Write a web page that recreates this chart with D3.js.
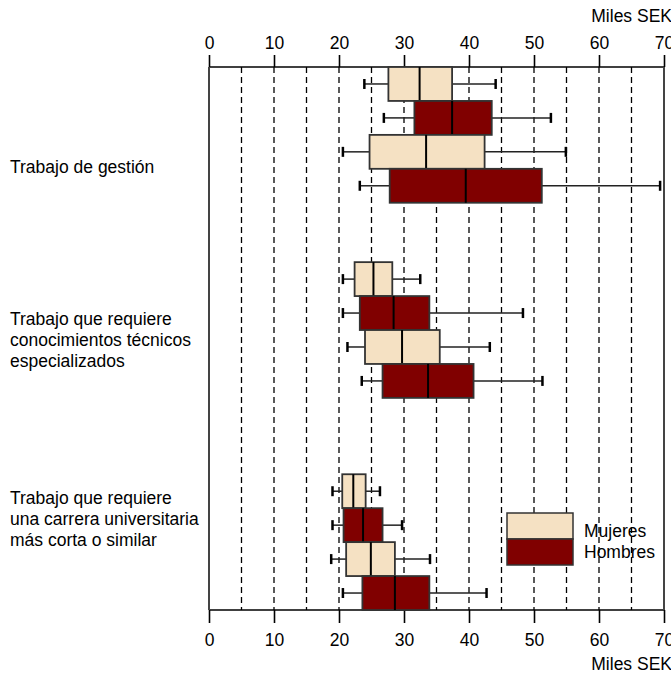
<!DOCTYPE html>
<html>
<head>
<meta charset="utf-8">
<script src="https://cdn.jsdelivr.net/npm/d3@7"></script>
<style>
  body { margin: 0; background: #fff; }
  svg text { font-family: "Liberation Sans", Arial, sans-serif; fill: #000; }
</style>
</head>
<body>
<div id="grafica"></div>
<script>
// categorias (cada grupo tiene 4 filas: M, H, M, H)
const grupos = [
    ["Trabajo de gestión"],
    ["Trabajo que requiere", "conocimientos técnicos", "especializados"],
    ["Trabajo que requiere", "una carrera universitaria", "más corta o similar"]
];
const sexos = ["Mujeres", "Hombres", "Mujeres", "Hombres"];
const ticks = [0, 10, 20, 30, 40, 50, 60, 70];
const rejilla = [5, 10, 15, 20, 25, 30, 35, 40, 45, 50, 55, 60, 65];

// valores en miles SEK, 12 filas (grupo por grupo)
const minimo  = [23.9, 26.9, 20.6, 23.2,  20.6, 20.6, 21.3, 23.5,  19.0, 19.0, 18.8, 20.6];
const q1      = [27.6, 31.6, 24.7, 27.8,  22.4, 23.2, 24.0, 26.7,  20.5, 20.7, 21.1, 23.6];
const mediana = [32.4, 37.4, 33.4, 39.5,  25.3, 28.4, 29.7, 33.7,  22.2, 23.7, 24.9, 28.6];
const q3      = [37.4, 43.5, 42.4, 51.2,  28.2, 33.9, 35.5, 40.7,  24.1, 26.7, 28.6, 33.9];
const maximo  = [44.1, 52.6, 54.9, 69.4,  32.5, 48.3, 43.2, 51.3,  26.3, 29.7, 34.0, 42.7];

function grafica() {
    const width = 671, height = 675;
    const left = 209, right = 664, top = 67, bottom = 610;
    const inicioGrupo = [0, 5.75, 12];   // fila donde empieza cada grupo
    const centroEtiqueta = [2.95, 8.04, 13.32];
    const fs = '17.5px';

    const colores = { "Mujeres": "#f5e1c3", "Hombres": "#800000" };

    const x = d3.scaleLinear().domain([0, 70]).range([left, right]);
    const y = d3.scaleLinear().domain([0, 16]).range([top, bottom]);

    const svg = d3.select('#grafica').append('svg')
        .attr('width', width)
        .attr('height', height);

    // lineas discontinuas
    svg.selectAll('line.rejilla')
        .data(rejilla)
        .enter().append('line')
        .attr('class', 'rejilla')
        .attr('x1', d => x(d)).attr('x2', d => x(d))
        .attr('y1', top).attr('y2', bottom)
        .attr('stroke', '#000')
        .attr('stroke-width', 1.3)
        .attr('stroke-dasharray', '6,4');

    // ejes arriba y abajo
    const ejeArriba = d3.axisTop(x).tickValues(ticks).tickSize(12).tickPadding(6);
    const ejeAbajo = d3.axisBottom(x).tickValues(ticks).tickSize(13).tickPadding(11);

    const gA = svg.append('g').attr('transform', `translate(0,${top})`).call(ejeArriba);
    const gB = svg.append('g').attr('transform', `translate(0,${bottom})`).call(ejeAbajo);
    [gA, gB].forEach(g => {
        g.select('.domain').remove();
        g.selectAll('.tick line').attr('stroke', '#000').attr('stroke-width', 1.6);
        g.selectAll('.tick text').style('font-size', fs)
            .style('font-family', '"Liberation Sans", Arial, sans-serif');
    });
    gA.selectAll('.tick text').attr('dy', '0');
    gB.selectAll('.tick text').attr('dy', '0.71em');

    svg.append('line')
        .attr('x1', left).attr('x2', right).attr('y1', top).attr('y2', top)
        .attr('stroke', '#000').attr('stroke-width', 1.6);
    svg.append('line')
        .attr('x1', left).attr('x2', right).attr('y1', bottom).attr('y2', bottom)
        .attr('stroke', '#000').attr('stroke-width', 1.6);
    // bordes laterales
    svg.append('line')
        .attr('x1', left).attr('x2', left).attr('y1', top).attr('y2', bottom)
        .attr('stroke', '#444').attr('stroke-width', 2);
    svg.append('line')
        .attr('x1', right).attr('x2', right).attr('y1', top).attr('y2', bottom)
        .attr('stroke', '#444').attr('stroke-width', 2);

    svg.append('text').attr('x', 672).attr('y', 22)
        .attr('text-anchor', 'end').style('font-size', fs).text('Miles SEK');
    svg.append('text').attr('x', 672).attr('y', 670)
        .attr('text-anchor', 'end').style('font-size', fs).text('Miles SEK');

    // filas
    const filas = [];
    grupos.forEach((g, gi) => {
        sexos.forEach((s, r) => {
            const i = gi * 4 + r;
            filas.push({
                sexo: s,
                fila: inicioGrupo[gi] + r,
                min: minimo[i], q1: q1[i], med: mediana[i], q3: q3[i], max: maximo[i]
            });
        });
    });

    const caja = svg.selectAll('g.caja')
        .data(filas)
        .enter().append('g').attr('class', 'caja');

    const cy = d => y(d.fila + 0.5);

    // bigotes
    caja.append('line')
        .attr('x1', d => x(d.min)).attr('x2', d => x(d.q1))
        .attr('y1', cy).attr('y2', cy)
        .attr('stroke', '#222').attr('stroke-width', 1.5);
    caja.append('line')
        .attr('x1', d => x(d.q3)).attr('x2', d => x(d.max))
        .attr('y1', cy).attr('y2', cy)
        .attr('stroke', '#222').attr('stroke-width', 1.5);
    ['min', 'max'].forEach(k => {
        caja.append('line')
            .attr('x1', d => x(d[k])).attr('x2', d => x(d[k]))
            .attr('y1', d => cy(d) - 5).attr('y2', d => cy(d) + 5)
            .attr('stroke', '#000').attr('stroke-width', 2.5);
    });

    caja.append('rect')
        .attr('x', d => x(d.q1))
        .attr('width', d => x(d.q3) - x(d.q1))
        .attr('y', d => y(d.fila))
        .attr('height', d => y(d.fila + 1) - y(d.fila))
        .attr('fill', d => colores[d.sexo])
        .attr('stroke', '#333')
        .attr('stroke-width', 1.8);

    caja.append('line')
        .attr('x1', d => x(d.med)).attr('x2', d => x(d.med))
        .attr('y1', d => y(d.fila)).attr('y2', d => y(d.fila + 1))
        .attr('stroke', '#000').attr('stroke-width', 2);

    // etiquetas de los grupos
    grupos.forEach((lineas, gi) => {
        const t = svg.append('text')
            .attr('x', 10)
            .attr('y', y(centroEtiqueta[gi]) - (lineas.length - 1) * 21 / 2 + 6)
            .style('font-size', fs);
        lineas.forEach((l, li) => {
            t.append('tspan').attr('x', 10).attr('dy', li === 0 ? 0 : 21).text(l);
        });
    });

    // leyenda
    const leyenda = svg.append('g').attr('transform', 'translate(507,513)');
    ['Mujeres', 'Hombres'].forEach((s, i) => {
        leyenda.append('rect')
            .attr('x', 0).attr('y', i * 26)
            .attr('width', 66).attr('height', 26)
            .attr('fill', colores[s])
            .attr('stroke', '#333').attr('stroke-width', 1.5);
        leyenda.append('text')
            .attr('x', 77).attr('y', 24 + i * 21)
            .style('font-size', fs)
            .text(s);
    });
}

grafica();
</script>
</body>
</html>
